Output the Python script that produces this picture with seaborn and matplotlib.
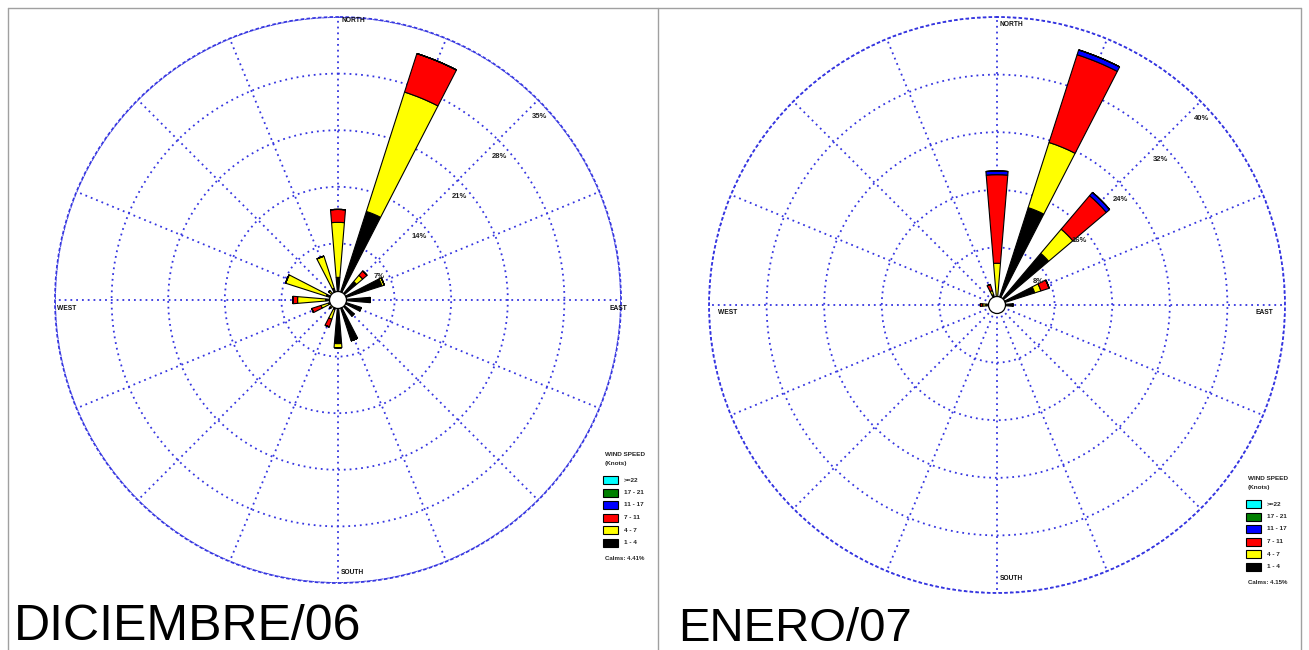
import numpy as np
import matplotlib
matplotlib.use("Agg")
import matplotlib.pyplot as plt
from matplotlib.patches import Rectangle, Circle
from matplotlib.lines import Line2D
import seaborn as sns

# ---- data -------------------------------------------------------------
directions = ["N", "NNE", "NE", "ENE", "E", "ESE", "SE", "SSE",
              "S", "SSW", "SW", "WSW", "W", "WNW", "NW", "NNW"]
speed_classes = ["1 - 4", "4 - 7", "7 - 11", "11 - 17", "17 - 21", ">=22"]
class_colors = ["#000000", "#ffff00", "#ff0000", "#0000ff", "#008000", "#00ffff"]

# December 2006, frequency (%) per direction and speed class
dic_1_4   = [2.8, 11.5, 3.0, 5.7, 4.0, 3.0, 2.6, 5.3, 5.4, 1.2, 1.0, 1.2, 1.5, 1.5, 1.0, 1.5]
dic_4_7   = [6.8, 15.5, 1.0, 0.3, 0.0, 0.0, 0.0, 0.0, 0.5, 1.3, 0.4, 1.0, 3.5, 5.3, 0.5, 4.2]
dic_7_11  = [1.6, 5.0, 0.7, 0.0, 0.0, 0.0, 0.0, 0.0, 0.0, 1.0, 0.0, 1.2, 0.6, 0.0, 0.0, 0.0]
dic_11_17 = [0.0] * 16
dic_17_21 = [0.0] * 16
dic_22    = [0.0] * 16
dic_rings = [7, 14, 21, 28, 35]
dic_calms = "Calms: 4.41%"

# January 2007
ene_1_4   = [1.0, 14.2, 9.4, 5.5, 2.2, 0.8, 0.6, 0.5, 0.5, 0.5, 0.4, 0.6, 1.5, 0.6, 0.6, 1.5]
ene_4_7   = [4.8, 9.5, 4.4, 0.9, 0.0, 0.0, 0.0, 0.0, 0.0, 0.0, 0.0, 0.0, 0.5, 0.0, 0.0, 0.6]
ene_7_11  = [12.3, 12.8, 6.1, 1.2, 0.0, 0.0, 0.0, 0.0, 0.0, 0.0, 0.0, 0.0, 0.3, 0.0, 0.0, 0.9]
ene_11_17 = [0.5, 0.7, 0.6, 0.0, 0.0, 0.0, 0.0, 0.0, 0.0, 0.0, 0.0, 0.0, 0.0, 0.0, 0.0, 0.0]
ene_17_21 = [0.0] * 16
ene_22    = [0.0] * 16
ene_rings = [8, 16, 24, 32, 40]
ene_calms = "Calms: 4.15%"

# ---- style ------------------------------------------------------------
sns.set_theme(style="white")
plt.rcParams["font.family"] = ["Liberation Sans", "DejaVu Sans"]

W, H = 1309, 650
fig = plt.figure(figsize=(W / 100, H / 100), dpi=100)
fig.patch.set_facecolor("white")

GRID_BLUE = "#3535e0"
DOTS = (0, (1.0, 2.2))


def fx(x):
    return x / W


def fy(y):
    return 1 - y / H


def rose(cx, cy, rad, series, rings, title, title_xy, title_size,
         compass, legend_xy, calms):
    ax = fig.add_axes([fx(cx - rad), fy(cy + rad), 2 * rad / W, 2 * rad / H],
                      projection="polar")
    ax.set_theta_zero_location("N")
    ax.set_theta_direction(-1)
    ax.set_facecolor("none")
    ax.set_axisbelow(True)
    theta = np.deg2rad(np.arange(16) * 22.5)
    width = np.deg2rad(9.5)
    bottom = np.zeros(16)
    for vals, col in zip(series, class_colors):
        vals = np.asarray(vals, dtype=float)
        ax.bar(theta, vals, width=width, bottom=bottom, color=col,
               edgecolor="black", linewidth=0.8, zorder=3)
        bottom = bottom + vals
    ax.set_ylim(0, rings[-1])
    ax.set_yticks(rings)
    ax.set_yticklabels([])
    ax.set_xticks(theta)
    ax.set_xticklabels([])
    ax.grid(True, color=GRID_BLUE, linestyle=DOTS, linewidth=1.3)
    ax.spines["polar"].set_color(GRID_BLUE)
    ax.spines["polar"].set_linestyle(DOTS)
    ax.spines["polar"].set_linewidth(1.3)
    for r in rings:
        ax.annotate(f"{r}%", xy=(np.deg2rad(45), r), xytext=(1, -17),
                    textcoords="offset pixels", ha="center", va="center",
                    fontsize=5.5, fontweight="bold", color="#222222", zorder=5)
    # calm circle
    ax.add_patch(Circle((0.5, 0.5), 8.5 / (2 * rad), transform=ax.transAxes,
                        facecolor="white", edgecolor="black", linewidth=0.9,
                        zorder=6))
    # compass words
    for label, (px, py, ha) in compass.items():
        fig.text(fx(px), fy(py), label, ha=ha, va="center", fontsize=4.8,
                 fontweight="bold", color="#111111")
    # legend
    lx, ly = legend_xy
    fig.text(fx(lx), fy(ly), "WIND SPEED", fontsize=4.6, fontweight="bold",
             va="center", ha="left")
    fig.text(fx(lx), fy(ly + 9), "(Knots)", fontsize=4.6, fontweight="bold",
             va="center", ha="left")
    box_y = ly + 22
    for k, (lab, col) in enumerate(zip(speed_classes[::-1], class_colors[::-1])):
        y0 = box_y + k * 12.5
        fig.add_artist(Rectangle((fx(lx - 2), fy(y0 + 8)), 15 / W, 8 / H,
                                 facecolor=col, edgecolor="black",
                                 linewidth=0.8, transform=fig.transFigure))
        fig.text(fx(lx + 19), fy(y0 + 4), lab, fontsize=4.6, fontweight="bold",
                 va="center", ha="left")
    fig.text(fx(lx), fy(box_y + 6 * 12.5 + 7), calms, fontsize=4.4,
             fontweight="bold", va="center", ha="left")
    # panel title
    fig.text(fx(title_xy[0]), fy(title_xy[1]), title, fontsize=title_size,
             ha="left", va="baseline", color="black")


rose(338, 300, 283,
     [dic_1_4, dic_4_7, dic_7_11, dic_11_17, dic_17_21, dic_22],
     dic_rings, "DICIEMBRE/06", (14, 640), 36,
     {"NORTH": (341, 21, "left"), "SOUTH": (341, 572, "left"),
      "WEST": (57, 309, "left"), "EAST": (627, 309, "right")},
     (605, 454), dic_calms)

rose(997, 305, 288,
     [ene_1_4, ene_4_7, ene_7_11, ene_11_17, ene_17_21, ene_22],
     ene_rings, "ENERO/07", (678, 641), 34,
     {"NORTH": (1000, 24, "left"), "SOUTH": (1000, 578, "left"),
      "WEST": (718, 313, "left"), "EAST": (1273, 313, "right")},
     (1248, 478), ene_calms)

# panel frames
frame = dict(color="#a0a0a0", linewidth=1.0, transform=fig.transFigure)
fig.add_artist(Line2D([fx(8), fx(1301)], [fy(8), fy(8)], **frame))
fig.add_artist(Line2D([fx(8), fx(8)], [fy(8), fy(650)], **frame))
fig.add_artist(Line2D([fx(658), fx(658)], [fy(8), fy(650)], **frame))
fig.add_artist(Line2D([fx(1301), fx(1301)], [fy(8), fy(650)], **frame))

fig.savefig("out.png", dpi=100, facecolor="white")
